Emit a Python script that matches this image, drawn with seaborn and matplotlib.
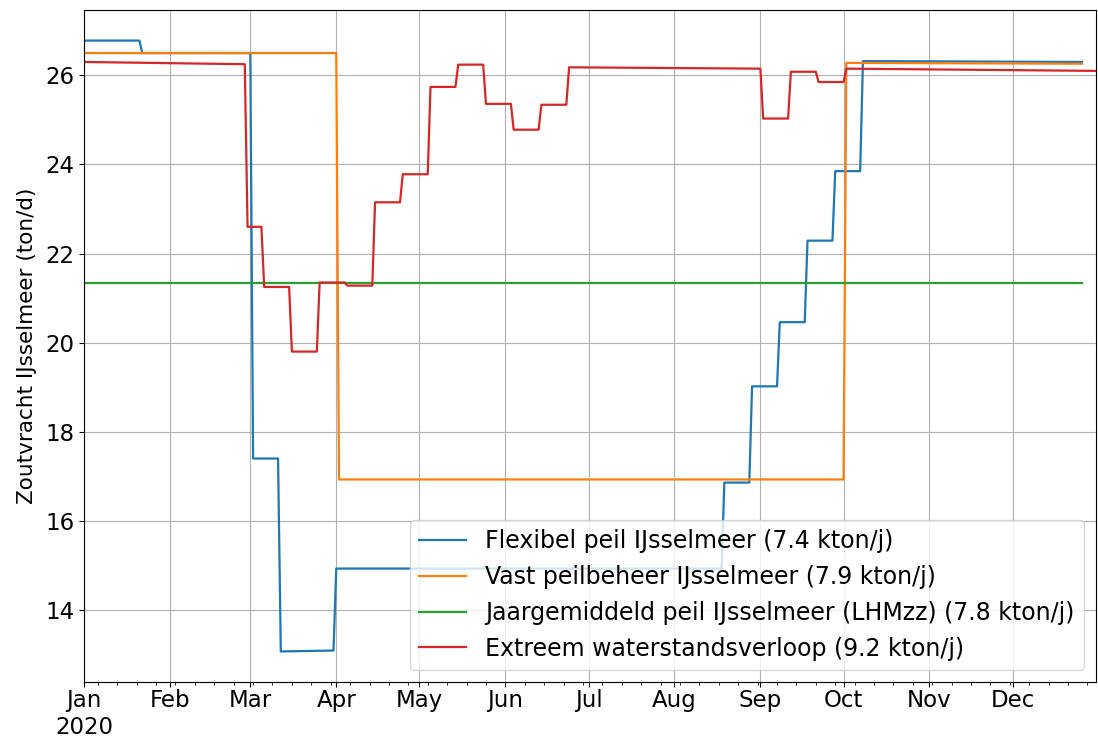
import matplotlib
matplotlib.use("Agg")
import matplotlib.pyplot as plt
import matplotlib.dates as mdates
import matplotlib.ticker as mticker
import numpy as np
import pandas as pd
import seaborn as sns

# Corner points of each scenario (date, salt load in ton/d)
flex_dates = ["2020-01-01", "2020-01-21", "2020-01-22", "2020-03-01", "2020-03-02",
              "2020-03-11", "2020-03-12", "2020-03-31", "2020-04-01", "2020-08-18",
              "2020-08-19", "2020-08-28", "2020-08-29", "2020-09-07", "2020-09-08",
              "2020-09-17", "2020-09-18", "2020-09-27", "2020-09-28", "2020-10-07",
              "2020-10-08", "2020-12-26"]
flex_vals = [26.78, 26.78, 26.50, 26.50, 17.40,
             17.40, 13.07, 13.09, 14.93, 14.93,
             16.86, 16.86, 19.02, 19.02, 20.46,
             20.46, 22.29, 22.29, 23.85, 23.85,
             26.32, 26.30]

vast_dates = ["2020-01-01", "2020-04-01", "2020-04-02", "2020-10-01", "2020-10-02", "2020-12-26"]
vast_vals = [26.50, 26.50, 16.93, 16.93, 26.28, 26.26]

jaar_dates = ["2020-01-01", "2020-12-26"]
jaar_vals = [21.34, 21.34]

extreem_dates = ["2020-01-01", "2020-02-28", "2020-02-29", "2020-03-05", "2020-03-06",
                 "2020-03-15", "2020-03-16", "2020-03-25", "2020-03-26", "2020-04-04",
                 "2020-04-05", "2020-04-14", "2020-04-15", "2020-04-24", "2020-04-25",
                 "2020-05-04", "2020-05-05", "2020-05-14", "2020-05-15", "2020-05-24",
                 "2020-05-25", "2020-06-03", "2020-06-04", "2020-06-13", "2020-06-14",
                 "2020-06-23", "2020-06-24", "2020-09-01", "2020-09-02", "2020-09-11",
                 "2020-09-12", "2020-09-21", "2020-09-22", "2020-10-01", "2020-10-02",
                 "2020-12-31"]
extreem_vals = [26.30, 26.25, 22.60, 22.60, 21.25,
                21.25, 19.80, 19.80, 21.35, 21.35,
                21.28, 21.28, 23.15, 23.15, 23.78,
                23.78, 25.74, 25.74, 26.24, 26.24,
                25.36, 25.36, 24.78, 24.78, 25.34,
                25.34, 26.18, 26.15, 25.03, 25.03,
                26.08, 26.08, 25.85, 25.85, 26.15,
                26.10]

labels = ["Flexibel peil IJsselmeer (7.4 kton/j)",
          "Vast peilbeheer IJsselmeer (7.9 kton/j)",
          "Jaargemiddeld peil IJsselmeer (LHMzz) (7.8 kton/j)",
          "Extreem waterstandsverloop (9.2 kton/j)"]
colors = ["#1f77b4", "#ff7f0e", "#2ca02c", "#d62728"]

series = [(flex_dates, flex_vals), (vast_dates, vast_vals),
          (jaar_dates, jaar_vals), (extreem_dates, extreem_vals)]

plt.rcParams["font.family"] = ["DejaVu Sans"]
plt.rcParams["font.size"] = 16

fig = plt.figure(figsize=(10.98, 7.38), dpi=100)
ax = fig.add_axes([0.0765, 0.0759, 0.9215, 0.9105])

for (d, v), lab, col in zip(series, labels, colors):
    df = pd.DataFrame({"datum": pd.to_datetime(d), "zout": v})
    sns.lineplot(data=df, x="datum", y="zout", color=col, label=lab,
                 estimator=None, linewidth=1.6, ax=ax)

ax.set_xlim(pd.Timestamp("2020-01-01"), pd.Timestamp("2020-12-31"))
ax.margins(y=0.05)

ax.xaxis.set_major_locator(mdates.MonthLocator())
ax.xaxis.set_minor_locator(mdates.WeekdayLocator(byweekday=mdates.MO))


def month_label(x, pos=None):
    dt = mdates.num2date(x)
    if dt.month == 1:
        return dt.strftime("%b\n%Y")
    return dt.strftime("%b")


ax.xaxis.set_major_formatter(mticker.FuncFormatter(month_label))
ax.xaxis.set_minor_formatter(mticker.NullFormatter())
ax.tick_params(axis="both", which="major", labelsize=16.5)
ax.tick_params(axis="x", which="major", pad=1.5)
for t in ax.get_xticklabels():
    t.set_horizontalalignment("center")

ax.set_xlabel("")
ax.set_ylabel("Zoutvracht IJsselmeer (ton/d)", fontsize=15.5, labelpad=6)
ax.grid(True, which="major", color="#b0b0b0", linewidth=0.8)

ax.legend(loc="lower right", fontsize=17)

fig.savefig("out.png", dpi=100)
